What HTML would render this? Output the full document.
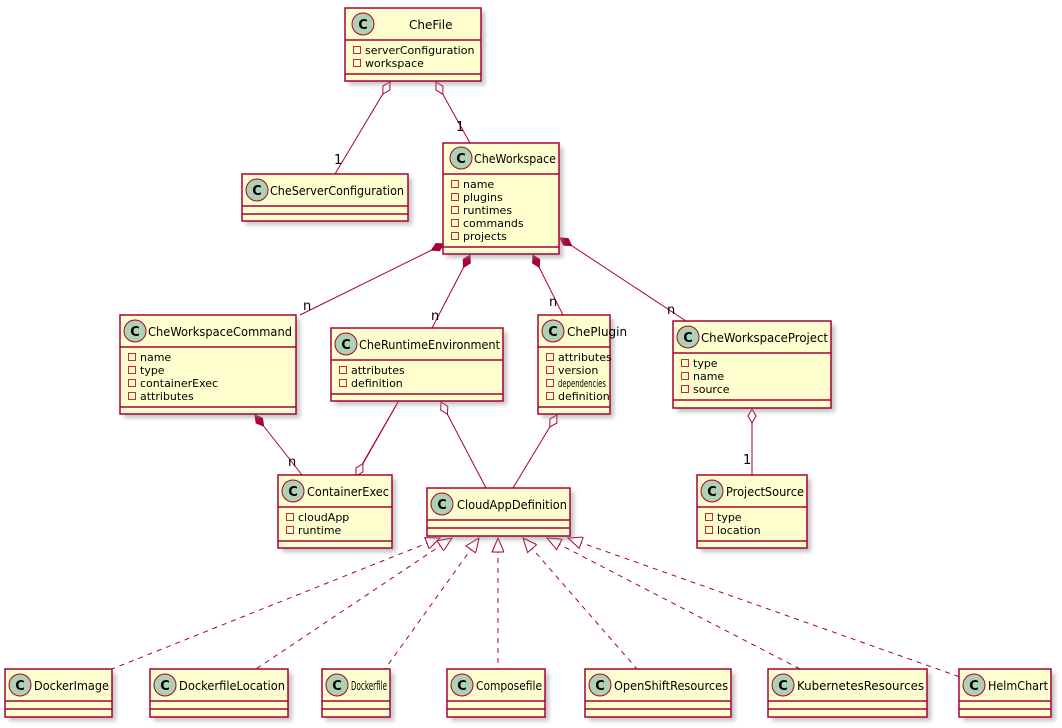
<!DOCTYPE html>
<html><head><meta charset="utf-8"><style>
html,body{margin:0;padding:0;background:#fff;width:1062px;height:728px;overflow:hidden}
svg text{font-family:"DejaVu Sans","Liberation Sans",sans-serif}
</style></head><body>
<svg width="1062" height="728" viewBox="0 0 1062 728" xmlns="http://www.w3.org/2000/svg">
<defs>
<filter id="sh" x="-10%" y="-10%" width="130%" height="140%"><feGaussianBlur stdDeviation="2"/></filter>
<marker id="od" markerUnits="userSpaceOnUse" markerWidth="20" markerHeight="12" refX="1" refY="5" orient="auto"><polygon points="1,5 8,1 15,5 8,9" fill="#fff" stroke="#A80036" stroke-width="1"/></marker>
<marker id="fd" markerUnits="userSpaceOnUse" markerWidth="20" markerHeight="12" refX="1" refY="5" orient="auto"><polygon points="1,5 8,1 15,5 8,9" fill="#A80036" stroke="#A80036" stroke-width="1"/></marker>
<marker id="tr" markerUnits="userSpaceOnUse" markerWidth="20" markerHeight="14" refX="1" refY="6" orient="auto"><polygon points="1,6 15,0 15,12" fill="#fff" stroke="#A80036" stroke-width="1"/></marker>
</defs>
<g stroke="#A80036" stroke-width="1" fill="none">
<line x1="390" y1="82" x2="335" y2="174" marker-start="url(#od)"/>
<line x1="436" y1="82" x2="470" y2="143" marker-start="url(#od)"/>
<line x1="444" y1="244" x2="300" y2="315" marker-start="url(#fd)"/>
<line x1="470" y1="255" x2="432" y2="328" marker-start="url(#fd)"/>
<line x1="533" y1="255" x2="563" y2="315" marker-start="url(#fd)"/>
<line x1="560" y1="238" x2="686" y2="321" marker-start="url(#fd)"/>
<line x1="255" y1="415" x2="302" y2="475" marker-start="url(#fd)"/>
<line x1="398" y1="402" x2="356" y2="475"/>
<line x1="356" y1="476" x2="398" y2="402" marker-start="url(#od)"/>
<line x1="441" y1="402" x2="486" y2="488" marker-start="url(#od)"/>
<line x1="557" y1="415" x2="513" y2="488" marker-start="url(#od)"/>
<line x1="752" y1="409" x2="752" y2="475" marker-start="url(#od)"/>
<g stroke-dasharray="5,5">
<line x1="440" y1="538" x2="112" y2="669" marker-start="url(#tr)"/>
<line x1="452" y1="538" x2="256" y2="669" marker-start="url(#tr)"/>
<line x1="479" y1="538" x2="385" y2="669" marker-start="url(#tr)"/>
<line x1="498" y1="538" x2="498" y2="669" marker-start="url(#tr)"/>
<line x1="523" y1="538" x2="637" y2="669" marker-start="url(#tr)"/>
<line x1="547" y1="538" x2="800" y2="669" marker-start="url(#tr)"/>
<line x1="568" y1="538" x2="960" y2="677" marker-start="url(#tr)"/>
</g>
</g>
<g font-size="13" fill="#000">
<text x="334" y="164">1</text><text x="456" y="131">1</text>
<text x="303" y="310">n</text><text x="431" y="320">n</text><text x="549" y="306">n</text><text x="667" y="314">n</text>
<text x="288" y="466">n</text><text x="743" y="464">1</text>
</g>
<g id="boxes" font-size="11">
<!-- generic box template repeated -->
</g>
<g stroke="#A80036" stroke-width="1.5" fill="#FEFECE">
<g opacity="0.5" stroke="none" fill="#888" filter="url(#sh)">
<rect x="349" y="12" width="136" height="73"/><rect x="246" y="178" width="166" height="47"/><rect x="447" y="147" width="116" height="111"/>
<rect x="124" y="319" width="176" height="99"/><rect x="335" y="332" width="172" height="73"/><rect x="542" y="319" width="72" height="99"/>
<rect x="677" y="325" width="158" height="87"/><rect x="282" y="479" width="114" height="73"/><rect x="431" y="492" width="143" height="48"/>
<rect x="701" y="479" width="110" height="73"/>
<rect x="9" y="673" width="107" height="48"/><rect x="154" y="673" width="138" height="48"/><rect x="326" y="673" width="68" height="48"/>
<rect x="451" y="673" width="98" height="48"/><rect x="589" y="673" width="146" height="48"/><rect x="772" y="673" width="159" height="48"/><rect x="963" y="673" width="92" height="48"/>
</g>
<rect x="345" y="8" width="136" height="73"/><rect x="242" y="174" width="166" height="47"/><rect x="443" y="143" width="116" height="111"/>
<rect x="120" y="315" width="176" height="99"/><rect x="331" y="328" width="172" height="73"/><rect x="538" y="315" width="72" height="99"/>
<rect x="673" y="321" width="158" height="87"/><rect x="278" y="475" width="114" height="73"/><rect x="427" y="488" width="143" height="48"/>
<rect x="697" y="475" width="110" height="73"/>
<rect x="5" y="669" width="107" height="48"/><rect x="150" y="669" width="138" height="48"/><rect x="322" y="669" width="68" height="48"/>
<rect x="447" y="669" width="98" height="48"/><rect x="585" y="669" width="146" height="48"/><rect x="768" y="669" width="159" height="48"/><rect x="959" y="669" width="92" height="48"/>
<g fill="none">
<path d="M345 40h136M345 74h136"/>
<path d="M242 206h166M242 214h166"/>
<path d="M443 174h116M443 247h116"/>
<path d="M120 347h176M120 407h176"/>
<path d="M331 360h172M331 394h172"/>
<path d="M538 347h72M538 407h72"/>
<path d="M673 353h158M673 400h158"/>
<path d="M278 507h114M278 541h114"/>
<path d="M427 520h143M427 528h143"/>
<path d="M697 507h110M697 541h110"/>
<path d="M5 701h107M5 709h107M150 701h138M150 709h138M322 701h68M322 709h68M447 701h98M447 709h98M585 701h146M585 709h146M768 701h159M768 709h159M959 701h92M959 709h92"/>
</g>
<g fill="#ADD1B2" stroke-width="1">
<circle cx="363" cy="24" r="11"/><circle cx="257" cy="190" r="11"/><circle cx="461" cy="158" r="11"/>
<circle cx="135" cy="331" r="11"/><circle cx="346" cy="344" r="11"/><circle cx="553" cy="331" r="11"/>
<circle cx="688" cy="337" r="11"/><circle cx="293" cy="491" r="11"/><circle cx="442" cy="504" r="11"/><circle cx="712" cy="491" r="11"/>
<circle cx="20" cy="685" r="11"/><circle cx="165" cy="685" r="11"/><circle cx="337" cy="685" r="11"/><circle cx="462" cy="685" r="11"/><circle cx="600" cy="685" r="11"/><circle cx="783" cy="685" r="11"/><circle cx="974" cy="685" r="11"/>
</g>
</g>
<g font-size="13" font-weight="bold" text-anchor="middle" fill="#000">
<text x="363" y="29">C</text><text x="257" y="195">C</text><text x="461" y="163">C</text>
<text x="135" y="336">C</text><text x="346" y="349">C</text><text x="553" y="336">C</text>
<text x="688" y="342">C</text><text x="293" y="496">C</text><text x="442" y="509">C</text><text x="712" y="496">C</text>
<text x="20" y="690">C</text><text x="165" y="690">C</text><text x="337" y="690">C</text><text x="462" y="690">C</text><text x="600" y="690">C</text><text x="783" y="690">C</text><text x="974" y="690">C</text>
</g>
<g font-size="12" fill="#000">
<text x="409" y="29">CheFile</text>
<text x="270" y="195" textLength="134" lengthAdjust="spacingAndGlyphs">CheServerConfiguration</text>
<text x="474" y="163" textLength="82" lengthAdjust="spacingAndGlyphs">CheWorkspace</text>
<text x="148" y="336" textLength="144" lengthAdjust="spacingAndGlyphs">CheWorkspaceCommand</text>
<text x="359" y="349" textLength="141" lengthAdjust="spacingAndGlyphs">CheRuntimeEnvironment</text>
<text x="567" y="336">ChePlugin</text>
<text x="701" y="342" textLength="127" lengthAdjust="spacingAndGlyphs">CheWorkspaceProject</text>
<text x="307" y="496" textLength="82" lengthAdjust="spacingAndGlyphs">ContainerExec</text>
<text x="457" y="509" textLength="110" lengthAdjust="spacingAndGlyphs">CloudAppDefinition</text>
<text x="726" y="496" textLength="78" lengthAdjust="spacingAndGlyphs">ProjectSource</text>
<text x="34" y="690" textLength="75" lengthAdjust="spacingAndGlyphs">DockerImage</text>
<text x="179" y="690" textLength="106" lengthAdjust="spacingAndGlyphs">DockerfileLocation</text>
<text x="351" y="690" textLength="36" lengthAdjust="spacingAndGlyphs">Dockerfile</text>
<text x="476" y="690" textLength="66" lengthAdjust="spacingAndGlyphs">Composefile</text>
<text x="614" y="690" textLength="114" lengthAdjust="spacingAndGlyphs">OpenShiftResources</text>
<text x="797" y="690" textLength="127" lengthAdjust="spacingAndGlyphs">KubernetesResources</text>
<text x="988" y="690" textLength="60" lengthAdjust="spacingAndGlyphs">HelmChart</text>
</g>
<g fill="none" stroke="#C82930" stroke-width="1">
<rect x="353.5" y="46.5" width="7" height="7"/><rect x="353.5" y="59.5" width="7" height="7"/>
<rect x="451.5" y="180.5" width="7" height="7"/><rect x="451.5" y="193.5" width="7" height="7"/><rect x="451.5" y="206.5" width="7" height="7"/><rect x="451.5" y="219.5" width="7" height="7"/><rect x="451.5" y="232.5" width="7" height="7"/>
<rect x="128.5" y="353.5" width="7" height="7"/><rect x="128.5" y="366.5" width="7" height="7"/><rect x="128.5" y="379.5" width="7" height="7"/><rect x="128.5" y="392.5" width="7" height="7"/>
<rect x="339.5" y="366.5" width="7" height="7"/><rect x="339.5" y="379.5" width="7" height="7"/>
<rect x="546.5" y="353.5" width="7" height="7"/><rect x="546.5" y="366.5" width="7" height="7"/><rect x="546.5" y="379.5" width="7" height="7"/><rect x="546.5" y="392.5" width="7" height="7"/>
<rect x="681.5" y="359.5" width="7" height="7"/><rect x="681.5" y="372.5" width="7" height="7"/><rect x="681.5" y="385.5" width="7" height="7"/>
<rect x="286.5" y="513.5" width="7" height="7"/><rect x="286.5" y="526.5" width="7" height="7"/>
<rect x="705.5" y="513.5" width="7" height="7"/><rect x="705.5" y="526.5" width="7" height="7"/>
</g>
<g font-size="11" fill="#000">
<text x="365" y="54">serverConfiguration</text><text x="365" y="67">workspace</text>
<text x="463" y="188">name</text><text x="463" y="201">plugins</text><text x="463" y="214">runtimes</text><text x="463" y="227">commands</text><text x="463" y="240">projects</text>
<text x="140" y="361">name</text><text x="140" y="374">type</text><text x="140" y="387">containerExec</text><text x="140" y="400">attributes</text>
<text x="351" y="374">attributes</text><text x="351" y="387">definition</text>
<text x="558" y="361">attributes</text><text x="558" y="374">version</text><text x="558" y="387" textLength="48" lengthAdjust="spacingAndGlyphs">dependencies</text><text x="558" y="400">definition</text>
<text x="693" y="367">type</text><text x="693" y="380">name</text><text x="693" y="393">source</text>
<text x="298" y="521">cloudApp</text><text x="298" y="534">runtime</text>
<text x="717" y="521">type</text><text x="717" y="534">location</text>
</g>
</svg>
</body></html>
